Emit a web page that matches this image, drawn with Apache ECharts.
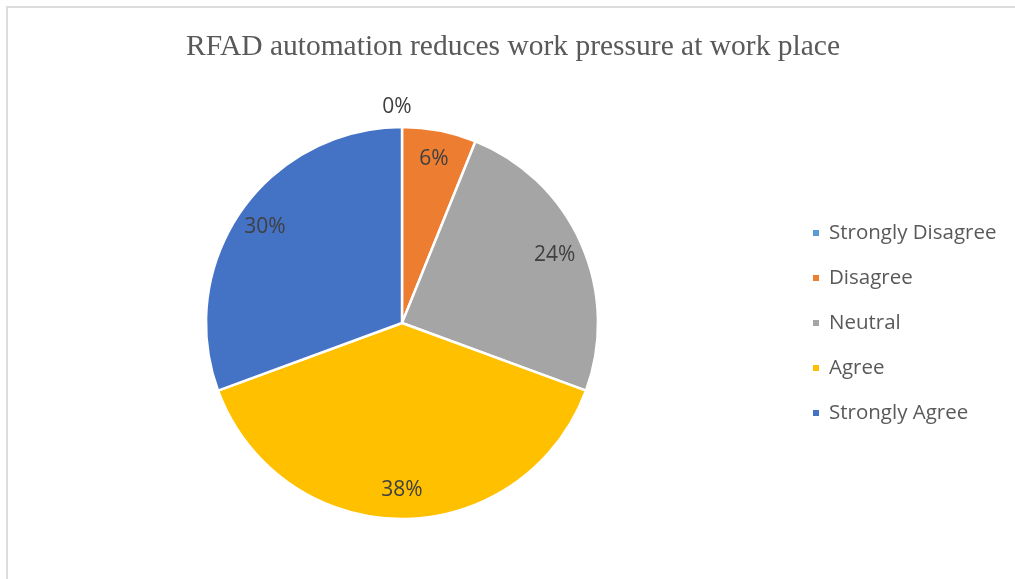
<!DOCTYPE html>
<html>
<head>
<meta charset="utf-8">
<script src="https://cdn.jsdelivr.net/npm/echarts@6/dist/echarts.min.js"></script>
<style>
  html, body { margin: 0; padding: 0; background: #ffffff; }
  #frame { position: absolute; left: 6px; top: 6px; width: 1200px; height: 800px;
           border-top: 2px solid #dcdcdc; border-left: 2px solid #dcdcdc; }
  #chart { position: absolute; left: 0; top: 0; width: 1015px; height: 579px; }
</style>
</head>
<body>
<div id="frame"></div>
<div id="chart"></div>
<script>
const titleText = 'RFAD automation reduces work pressure at work place';
const categories = ['Strongly Disagree', 'Disagree', 'Neutral', 'Agree', 'Strongly Agree'];
const percentValues = [0, 6, 24, 38, 30];
const colors = ['#5B9BD5', '#ED7D31', '#A5A5A5', '#FFC000', '#4472C4'];

const sansFont = '"Open Sans", "Noto Sans", sans-serif';
const labelStyle = { color: '#404040', fontSize: 21, fontFamily: sansFont };

const mainData = categories.map((name, i) => ({
  name: name,
  value: percentValues[i],
  itemStyle: { color: colors[i] },
  label: percentValues[i] === 0
    ? Object.assign({ show: true, position: 'outside', formatter: '{c}%' }, labelStyle)
    : { show: false },
  labelLine: { show: false, length: 20, length2: 0 }
}));

const labelData = categories.map((name, i) => ({
  name: name,
  value: percentValues[i],
  label: { show: percentValues[i] !== 0 }
}));

const chart = echarts.init(document.getElementById('chart'), null, { renderer: 'canvas' });
chart.setOption({
  backgroundColor: 'transparent',
  animation: false,
  title: {
    text: titleText,
    left: 508,
    textAlign: 'center',
    top: 27,
    textStyle: { fontFamily: '"Liberation Serif", "Times New Roman", serif', fontWeight: 'normal', fontSize: 29.5, color: '#595959' }
  },
  legend: {
    data: categories,
    orient: 'vertical',
    left: 806,
    top: 217,
    itemWidth: 8,
    itemHeight: 8,
    itemGap: 23,
    icon: 'rect',
    textStyle: { color: '#595959', fontSize: 20.5, lineHeight: 22, fontFamily: sansFont, padding: [0, 0, 0, 4] }
  },
  series: [
    {
      type: 'pie',
      center: [402, 323],
      radius: [0, 196],
      startAngle: 90,
      clockwise: true,
      avoidLabelOverlap: false,
      itemStyle: { borderColor: '#ffffff', borderWidth: 2.5 },
      labelLayout: function () { return { align: 'center' }; },
      emphasis: { disabled: true },
      data: mainData
    },
    {
      type: 'pie',
      center: [402, 323],
      radius: [132, 196],
      startAngle: 90,
      clockwise: true,
      silent: true,
      avoidLabelOverlap: false,
      itemStyle: { color: 'rgba(0,0,0,0)', borderWidth: 0 },
      label: Object.assign({ position: 'inside', formatter: '{c}%' }, labelStyle),
      labelLine: { show: false },
      emphasis: { disabled: true },
      data: labelData
    }
  ]
});
</script>
</body>
</html>
